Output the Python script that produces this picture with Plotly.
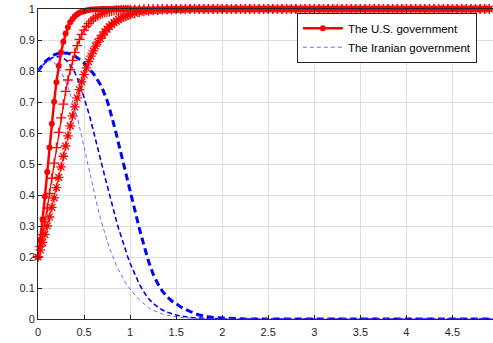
import plotly.graph_objects as go

# time axis (shared)
t = [0, 0.025, 0.05, 0.075, 0.1, 0.125, 0.15, 0.175, 0.2, 0.225,
     0.25, 0.275, 0.3, 0.325, 0.35, 0.375, 0.4, 0.425, 0.45, 0.475,
     0.5, 0.525, 0.55, 0.575, 0.6, 0.625, 0.65, 0.675, 0.7, 0.725,
     0.75, 0.775, 0.8, 0.825, 0.85, 0.875, 0.9, 0.925, 0.95, 0.975,
     1.0,
     1.05, 1.1, 1.15, 1.2, 1.25, 1.3, 1.35, 1.4, 1.45, 1.5,
     1.55, 1.6, 1.65, 1.7, 1.75, 1.8, 1.85, 1.9, 1.95, 2.0,
     2.05, 2.1, 2.15, 2.2, 2.25, 2.3, 2.35, 2.4, 2.45, 2.5,
     2.55, 2.6, 2.65, 2.7, 2.75, 2.8, 2.85, 2.9, 2.95, 3.0,
     3.05, 3.1, 3.15, 3.2, 3.25, 3.3, 3.35, 3.4, 3.45, 3.5,
     3.55, 3.6, 3.65, 3.7, 3.75, 3.8, 3.85, 3.9, 3.95, 4.0,
     4.05, 4.1, 4.15, 4.2, 4.25, 4.3, 4.35, 4.4, 4.45, 4.5,
     4.55, 4.6, 4.65, 4.7, 4.75, 4.8, 4.85, 4.9, 4.95, 5.0]

# U.S. government strategy probability (three parameter settings)
us_fast = [0.2, 0.256, 0.322, 0.395, 0.474, 0.553, 0.630, 0.701, 0.764, 0.817,
           0.860, 0.894, 0.921, 0.941, 0.957, 0.968, 0.977, 0.983, 0.988, 0.991,
           0.993, 0.995, 0.997, 0.998, 0.998, 0.999, 0.999, 0.999, 1, 1,
           1, 1, 1, 1, 1, 1, 1, 1, 1, 1,
           1,
           1, 1, 1, 1, 1, 1, 1, 1, 1, 1,
           1, 1, 1, 1, 1, 1, 1, 1, 1, 1,
           1, 1, 1, 1, 1, 1, 1, 1, 1, 1,
           1, 1, 1, 1, 1, 1, 1, 1, 1, 1,
           1, 1, 1, 1, 1, 1, 1, 1, 1, 1,
           1, 1, 1, 1, 1, 1, 1, 1, 1, 1,
           1, 1, 1, 1, 1, 1, 1, 1, 1, 1,
           1, 1, 1, 1, 1, 1, 1, 1, 1, 1]

us_mid = [0.2, 0.234, 0.272, 0.313, 0.358, 0.405, 0.454, 0.503, 0.553, 0.602,
          0.649, 0.693, 0.734, 0.771, 0.804, 0.834, 0.860, 0.882, 0.902, 0.918,
          0.932, 0.943, 0.953, 0.961, 0.968, 0.974, 0.978, 0.982, 0.985, 0.988,
          0.990, 0.992, 0.993, 0.995, 0.996, 0.996, 0.997, 0.998, 0.998, 0.998,
          0.999,
          0.999, 0.999, 1, 1, 1, 1, 1, 1, 1, 1,
          1, 1, 1, 1, 1, 1, 1, 1, 1, 1,
          1, 1, 1, 1, 1, 1, 1, 1, 1, 1,
          1, 1, 1, 1, 1, 1, 1, 1, 1, 1,
          1, 1, 1, 1, 1, 1, 1, 1, 1, 1,
          1, 1, 1, 1, 1, 1, 1, 1, 1, 1,
          1, 1, 1, 1, 1, 1, 1, 1, 1, 1,
          1, 1, 1, 1, 1, 1, 1, 1, 1, 1]

us_slow = [0.2, 0.223, 0.247, 0.273, 0.300, 0.329, 0.360, 0.391, 0.424, 0.457,
           0.491, 0.525, 0.558, 0.591, 0.623, 0.655, 0.684, 0.713, 0.740, 0.765,
           0.788, 0.810, 0.830, 0.848, 0.865, 0.880, 0.893, 0.905, 0.916, 0.926,
           0.935, 0.943, 0.950, 0.956, 0.961, 0.966, 0.970, 0.974, 0.977, 0.980,
           0.982,
           0.986, 0.990, 0.992, 0.994, 0.995, 0.996, 0.997, 0.998, 0.998, 0.999,
           0.999, 0.999, 1, 1, 1, 1, 1, 1, 1, 1,
           1, 1, 1, 1, 1, 1, 1, 1, 1, 1,
           1, 1, 1, 1, 1, 1, 1, 1, 1, 1,
           1, 1, 1, 1, 1, 1, 1, 1, 1, 1,
           1, 1, 1, 1, 1, 1, 1, 1, 1, 1,
           1, 1, 1, 1, 1, 1, 1, 1, 1, 1,
           1, 1, 1, 1, 1, 1, 1, 1, 1, 1]

# Iranian government strategy probability (three parameter settings)
ir_thick = [0.800, 0.811, 0.820, 0.829, 0.836, 0.842, 0.848, 0.852, 0.855, 0.857,
            0.858, 0.858, 0.858, 0.857, 0.855, 0.852, 0.848, 0.843, 0.838, 0.832,
            0.826, 0.818, 0.810, 0.801, 0.792, 0.781, 0.770, 0.757, 0.742, 0.724,
            0.705, 0.681, 0.655, 0.627, 0.597, 0.566, 0.535, 0.504, 0.473, 0.441,
            0.410,
            0.350, 0.292, 0.238, 0.186, 0.145, 0.114, 0.090, 0.072, 0.059, 0.048,
            0.039, 0.031, 0.024, 0.018, 0.013, 0.009, 0.007, 0.005, 0.004, 0.003,
            0.002, 0.001, 0.001, 0, 0, 0, 0, 0, 0, 0,
            0, 0, 0, 0, 0, 0, 0, 0, 0, 0,
            0, 0, 0, 0, 0, 0, 0, 0, 0, 0,
            0, 0, 0, 0, 0, 0, 0, 0, 0, 0,
            0, 0, 0, 0, 0, 0, 0, 0, 0, 0,
            0, 0, 0, 0, 0, 0, 0, 0, 0, 0]

ir_mid = [0.800, 0.810, 0.818, 0.826, 0.832, 0.838, 0.842, 0.845, 0.847, 0.847,
          0.845, 0.841, 0.836, 0.829, 0.820, 0.809, 0.795, 0.779, 0.760, 0.738,
          0.715, 0.691, 0.665, 0.638, 0.610, 0.580, 0.550, 0.520, 0.490, 0.460,
          0.430, 0.401, 0.372, 0.345, 0.318, 0.292, 0.268, 0.244, 0.222, 0.200,
          0.180,
          0.143, 0.112, 0.087, 0.066, 0.050, 0.038, 0.029, 0.022, 0.017, 0.013,
          0.010, 0.007, 0.005, 0.004, 0.003, 0.002, 0.001, 0.001, 0, 0,
          0, 0, 0, 0, 0, 0, 0, 0, 0, 0,
          0, 0, 0, 0, 0, 0, 0, 0, 0, 0,
          0, 0, 0, 0, 0, 0, 0, 0, 0, 0,
          0, 0, 0, 0, 0, 0, 0, 0, 0, 0,
          0, 0, 0, 0, 0, 0, 0, 0, 0, 0,
          0, 0, 0, 0, 0, 0, 0, 0, 0, 0]

ir_thin = [0.800, 0.812, 0.821, 0.828, 0.832, 0.833, 0.832, 0.828, 0.820, 0.810,
           0.798, 0.784, 0.768, 0.749, 0.728, 0.705, 0.680, 0.652, 0.622, 0.590,
           0.556, 0.521, 0.486, 0.452, 0.419, 0.387, 0.357, 0.328, 0.301, 0.276,
           0.252, 0.230, 0.210, 0.191, 0.174, 0.158, 0.143, 0.130, 0.117, 0.106,
           0.096,
           0.078, 0.062, 0.048, 0.037, 0.028, 0.021, 0.016, 0.012, 0.009, 0.007,
           0.005, 0.004, 0.003, 0.002, 0.001, 0.001, 0, 0, 0, 0,
           0, 0, 0, 0, 0, 0, 0, 0, 0, 0,
           0, 0, 0, 0, 0, 0, 0, 0, 0, 0,
           0, 0, 0, 0, 0, 0, 0, 0, 0, 0,
           0, 0, 0, 0, 0, 0, 0, 0, 0, 0,
           0, 0, 0, 0, 0, 0, 0, 0, 0, 0,
           0, 0, 0, 0, 0, 0, 0, 0, 0, 0]

x_ticks = [0, 0.5, 1, 1.5, 2, 2.5, 3, 3.5, 4, 4.5]
x_tick_text = ["0", "0.5", "1", "1.5", "2", "2.5", "3", "3.5", "4", "4.5"]
y_ticks = [0, 0.1, 0.2, 0.3, 0.4, 0.5, 0.6, 0.7, 0.8, 0.9, 1]
y_tick_text = ["0", "0.1", "0.2", "0.3", "0.4", "0.5", "0.6", "0.7", "0.8", "0.9", "1"]

for s in (us_fast, us_mid, us_slow, ir_thick, ir_mid, ir_thin):
    assert len(s) == len(t), (len(s), len(t))

RED = "rgb(255,0,0)"
BLUE = "rgb(0,0,255)"
FONT = "Arial, 'Liberation Sans', sans-serif"

fig = go.Figure()

# blue (Iranian government) dashed lines
fig.add_trace(go.Scatter(x=t, y=ir_thick, mode="lines", showlegend=False,
                         line=dict(color=BLUE, width=3, dash="7px,4px")))
fig.add_trace(go.Scatter(x=t, y=ir_mid, mode="lines", showlegend=False,
                         line=dict(color=BLUE, width=1.6, dash="5px,3px")))

# red (U.S. government) lines with markers
fig.add_trace(go.Scatter(x=t, y=us_fast, mode="lines+markers", name="The U.S. government",
                         cliponaxis=False,
                         line=dict(color=RED, width=2.5),
                         marker=dict(symbol="circle", size=6, color=RED)))
fig.add_trace(go.Scatter(x=t, y=us_mid, mode="lines+markers", showlegend=False,
                         cliponaxis=False,
                         line=dict(color=RED, width=1.3),
                         marker=dict(symbol="cross-thin-open", size=7,
                                     line=dict(color=RED, width=1.3))))
fig.add_trace(go.Scatter(x=t, y=us_slow, mode="lines+markers", showlegend=False,
                         cliponaxis=False,
                         line=dict(color=RED, width=1.0),
                         marker=dict(symbol="asterisk-open", size=8,
                                     line=dict(color=RED, width=1.3))))

fig.add_trace(go.Scatter(x=t, y=ir_thin, mode="lines", name="The Iranian government",
                         line=dict(color="rgb(90,90,255)", width=0.9, dash="4px,3px")))

axis_common = dict(
    showgrid=True, gridcolor="#dedede", gridwidth=1,
    showline=True, linecolor="#262626", linewidth=1,
    ticks="inside", ticklen=4, tickcolor="#262626", tickwidth=1,
    tickfont=dict(family=FONT, size=11, color="#262626"),
    zeroline=False,
)

fig.update_xaxes(range=[0, 4.94], tickvals=x_ticks, ticktext=x_tick_text,
                 mirror="ticks", ticklabelstandoff=3, **axis_common)
fig.update_yaxes(range=[0, 1], tickvals=y_ticks, ticktext=y_tick_text,
                 mirror=False, **axis_common)

fig.update_layout(
    width=493, height=343,
    margin=dict(l=38, r=0, t=9, b=24),
    plot_bgcolor="white", paper_bgcolor="white",
    font=dict(family=FONT, size=11, color="#262626"),
    hovermode=False,
    legend=dict(x=0.569, y=0.988, xanchor="left", yanchor="top",
                bgcolor="white", bordercolor="#262626", borderwidth=1,
                font=dict(family=FONT, size=11.5, color="black"),
                tracegroupgap=0, itemwidth=40),
)

fig.write_html("out.html",
               config={"displayModeBar": False, "staticPlot": True},
               post_script="document.body.style.margin='0';document.body.style.overflow='hidden';")
